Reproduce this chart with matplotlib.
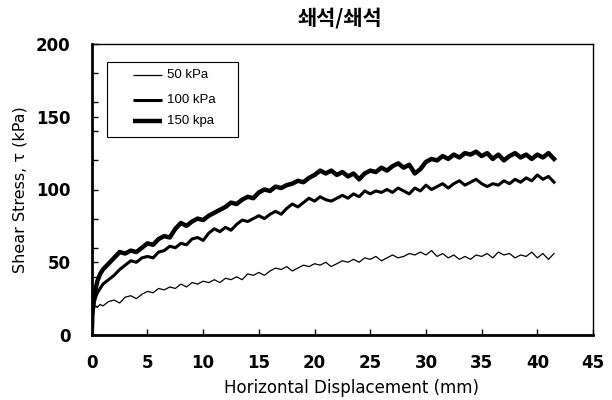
import numpy as np
import matplotlib
matplotlib.use("Agg")
import matplotlib.pyplot as plt
from matplotlib.patches import Rectangle

# horizontal displacement grid (mm)
disp = [0.0, 0.05, 0.15, 0.3, 0.5, 0.75] + list(np.arange(1.0, 41.51, 0.5))

# shear stress (kPa) for each normal stress
tau_50 = [0, 10, 17, 20, 19, 21,
          20, 23, 24, 22, 26, 27, 25, 28, 30, 29, 32, 31, 33, 32, 35, 33, 36, 35,
          37, 36, 38, 36, 39, 38, 40, 38, 42, 41, 43, 41, 44, 46, 45, 47, 44, 46,
          48, 47, 49, 48, 50, 47, 49, 51, 50, 52, 50, 53, 52, 54, 51, 53, 55, 53,
          54, 56, 55, 57, 55, 58, 54, 56, 53, 55, 52, 54, 52, 55, 54, 56, 53, 57,
          55, 56, 53, 55, 54, 57, 53, 56, 52, 56]
tau_100 = [0, 12, 20, 25, 29, 32,
           35, 38, 41, 45, 48, 51, 50, 53, 54, 53, 57, 58, 61, 60, 63, 62, 66, 67,
           65, 70, 73, 71, 74, 72, 76, 79, 78, 80, 82, 80, 83, 85, 83, 87, 90, 88,
           91, 94, 92, 95, 93, 92, 94, 96, 94, 97, 95, 99, 97, 99, 98, 100, 98, 101,
           99, 97, 101, 99, 103, 100, 102, 104, 101, 104, 106, 103, 105, 107, 104, 102,
           104, 103, 106, 104, 107, 105, 108, 106, 110, 107, 109, 105]
tau_150 = [0, 14, 22, 30, 37, 42,
           45, 49, 53, 57, 56, 58, 57, 60, 63, 62, 66, 68, 67, 73, 77, 75, 78, 80,
           79, 82, 84, 86, 88, 91, 90, 93, 95, 94, 98, 100, 99, 102, 101, 103, 104, 106,
           105, 108, 110, 113, 111, 113, 110, 112, 109, 111, 107, 111, 113, 112, 115, 113,
           116, 118, 115, 117, 111, 114, 119, 121, 120, 123, 121, 124, 122, 125, 124, 126,
           123, 125, 121, 124, 120, 123, 125, 122, 124, 121, 124, 122, 125, 121]

labels = ["50 kPa", "100 kPa", "150 kpa"]
widths = [0.9, 2.2, 3.2]

fig = plt.figure(figsize=(6.12, 4.0), dpi=100)
ax = fig.add_axes([0.150, 0.1625, 0.819, 0.7275])

for tau, lw in zip([tau_50, tau_100, tau_150], widths):
    ax.plot(disp, tau, color="black", lw=lw, solid_joinstyle="round")

ax.set_xlim(0, 45)
ax.set_ylim(0, 200)
ax.set_xticks(range(0, 46, 5))
ax.set_yticks(range(0, 201, 50))
# small inward ticks on the stress axis
ax.set_yticks(range(20, 200, 20), minor=True)
ax.tick_params(axis="x", which="major", direction="in", length=4, width=1,
               labelsize=12, pad=14)
ax.tick_params(axis="y", which="major", direction="in", length=4, width=1,
               labelsize=12, pad=15.5)
ax.tick_params(axis="y", which="minor", direction="in", length=4, width=1)
for lab in ax.get_xticklabels() + ax.get_yticklabels():
    lab.set_fontweight("bold")
    lab.set_family("DejaVu Sans")

ax.spines["left"].set_linewidth(2.0)
ax.spines["bottom"].set_linewidth(2.0)
ax.spines["top"].set_linewidth(1.0)
ax.spines["right"].set_linewidth(1.0)

ax.set_xlabel("Horizontal Displacement (mm)", fontsize=12, family="DejaVu Sans",
              va="center")
ax.set_ylabel("Shear Stress, τ (kPa)", fontsize=11.5, family="DejaVu Sans",
              va="center")
ax.xaxis.set_label_coords(0.519, -0.182)
ax.yaxis.set_label_coords(-0.1437, 0.5)

fig.text(0.556, 0.955, "쇄석/쇄석", ha="center", va="center", fontsize=15,
         fontweight="bold", family=["Noto Sans CJK KR", "DejaVu Sans"])

# legend box drawn by hand, in axes coordinates
ax.add_patch(Rectangle((0.030, 0.680), 0.261, 0.258, transform=ax.transAxes,
                       facecolor="white", edgecolor="black", lw=0.8, zorder=5))
rows_y = [0.893, 0.808, 0.735]
for yy, lab, lw in zip(rows_y, labels, widths):
    ax.plot([0.082, 0.140], [yy, yy], transform=ax.transAxes, color="black",
            lw=lw, zorder=6, solid_capstyle="butt")
    ax.text(0.150, yy, lab, transform=ax.transAxes, va="center", ha="left",
            fontsize=9.5, family="Liberation Sans", zorder=6)

fig.savefig("out.png", dpi=100)
